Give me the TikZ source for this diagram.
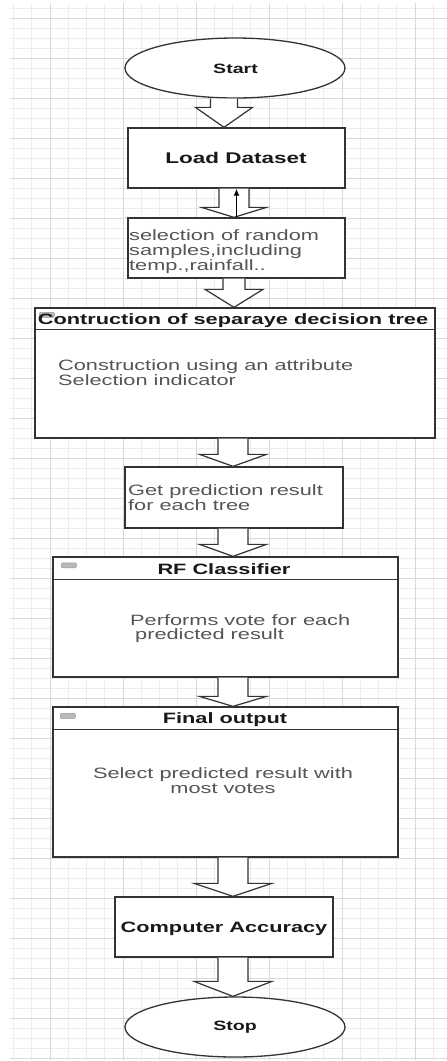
\documentclass[tikz,border=0pt]{standalone}
\usepackage{fontspec}
\setmainfont{Liberation Sans}
\newfontfamily\widefont[FakeStretch=1.45]{Liberation Sans}
\usetikzlibrary{calc,arrows.meta,shapes.geometric}
\definecolor{gridminor}{HTML}{EDEDED}
\definecolor{gridmajor}{HTML}{D9D9D9}
\definecolor{edge}{HTML}{333333}
\definecolor{bodytext}{HTML}{555555}
\newcommand\blockarrow[6]{%
  \draw[blockarr] let \p1=(#1.south), \p2=(#2.north) in
    (#3pt-#4pt,\y1) -- (#3pt-#4pt,\y2+#6pt) -- (#3pt-#5pt,\y2+#6pt) -- (#3pt,\y2)
    -- (#3pt+#5pt,\y2+#6pt) -- (#3pt+#4pt,\y2+#6pt) -- (#3pt+#4pt,\y1);}
\begin{document}
\begin{tikzpicture}[x=1pt,y=-1pt,
  minorline/.style={draw=gridminor,line width=0.8pt},
  majorline/.style={draw=gridmajor,line width=1pt},
  box/.style={draw=edge,line width=1.3pt,fill=white,inner sep=0pt},
  oval/.style={box,ellipse},
  hline/.style={draw=edge,line width=1.2pt},
  icon/.style={draw=gray!80,fill=gray!55,rounded corners=1pt,minimum width=15pt,minimum height=5pt,inner sep=0pt},
  blockarr/.style={draw=edge,line width=1.2pt,fill=white,line join=miter},
  title/.style={font=\widefont\bfseries\fontsize{15}{15}\selectfont,text=black!90,inner sep=0pt,anchor=base},
  body/.style={font=\widefont\fontsize{15}{15}\selectfont,text=bodytext,inner sep=0pt,align=left,anchor=north west},
]
\useasboundingbox (0,0) rectangle (447,1061);
\fill[white] (0,0) rectangle (447,1061);
% grid
\begin{scope}
\clip (10,3) rectangle (447,1060);
\foreach \i in {-3,...,22} \draw[minorline] ({50+18.25*\i},3) -- ({50+18.25*\i},1060);
\foreach \i in {-2,...,105} \draw[minorline] (10,{18+10*\i}) -- (447,{18+10*\i});
\foreach \i in {-1,...,6} \draw[majorline] ({50+73*\i},3) -- ({50+73*\i},1060);
\foreach \i in {-1,...,27} \draw[majorline] (10,{18+40*\i}) -- (447,{18+40*\i});
\end{scope}
% shapes
\node[oval,minimum width=220pt,minimum height=60pt] (start) at (235,68) {};
\node[box,minimum width=217pt,minimum height=60pt] (load) at (236.5,158) {};
\node[box,minimum width=217pt,minimum height=60pt] (sel) at (236.5,248) {};
\node[box,minimum width=400pt,minimum height=130pt] (cons) at (235,373) {};
\node[box,minimum width=218pt,minimum height=61pt] (get) at (234,497.5) {};
\node[box,minimum width=345pt,minimum height=120pt] (rf) at (225.5,617) {};
\node[box,minimum width=345pt,minimum height=150pt] (fin) at (225.5,782) {};
\node[box,minimum width=218pt,minimum height=60pt] (comp) at (224,927) {};
\node[oval,minimum width=220pt,minimum height=60pt] (stop) at (235,1027) {};
% swimlane headers
\draw[hline] ($(cons.north west)+(0,22)$) -- ($(cons.north east)+(0,22)$);
\draw[hline] ($(rf.north west)+(0,23)$) -- ($(rf.north east)+(0,23)$);
\draw[hline] ($(fin.north west)+(0,23)$) -- ($(fin.north east)+(0,23)$);
\node[icon] (icons) at ($(cons.north west)+(12.5,7.5)$) {};
\node[icon] (iconr) at ($(rf.north west)+(16.5,9)$) {};
\node[icon] (iconf) at ($(fin.north west)+(15.5,9.5)$) {};
% texts
\node[title,font=\widefont\bfseries\fontsize{13.5}{13.5}\selectfont] (tstart) at (235.5,73) {Start};
\node[title,font=\widefont\bfseries\fontsize{15.5}{15.5}\selectfont] (tload) at (236,163) {Load Dataset};
\node[body] (tsel) at (129,229.5) {selection of random\\samples,including\\temp.,rainfall..};
\node[title] (tcons) at (233,324) {Contruction of separaye decision tree};
\node[body] (tconsb) at (58,359.3) {Construction using an attribute\\Selection indicator};
\node[body] (tget) at (128,484.3) {Get prediction result\\for each tree};
\node[title] (trf) at (224,574) {RF Classifier};
\node[body,font=\widefont\fontsize{15}{14}\selectfont] (trfb) at (130,614.3) {Performs vote for each\\\hspace*{5pt}predicted result};
\node[title] (tfin) at (225,723) {Final output};
\node[body,align=center,anchor=north] (tfinb) at (223,767.3) {Select predicted result with\\most votes};
\node[title] (tcomp) at (224,932) {Computer Accuracy};
\node[title,font=\widefont\bfseries\fontsize{13.5}{13.5}\selectfont] (tstop) at (235,1030) {Stop};
% block arrows
\blockarrow{start}{load}{224}{13.5}{28.5}{20}
\blockarrow{load}{sel}{234}{15}{32.5}{10}
\blockarrow{sel}{cons}{234}{11}{29}{18}
\blockarrow{cons}{get}{233}{15}{33.5}{12}
\blockarrow{get}{rf}{233}{15}{33.5}{12}
\blockarrow{rf}{fin}{233}{15}{33.5}{10}
\blockarrow{fin}{comp}{233}{15}{39}{13}
\blockarrow{comp}{stop}{233}{15}{39}{15}
% thin arrow
\draw[draw=black,line width=1.4pt,-{Latex[length=7pt,width=6pt]}] (sel.north) -- (load.south);
\end{tikzpicture}
\end{document}
